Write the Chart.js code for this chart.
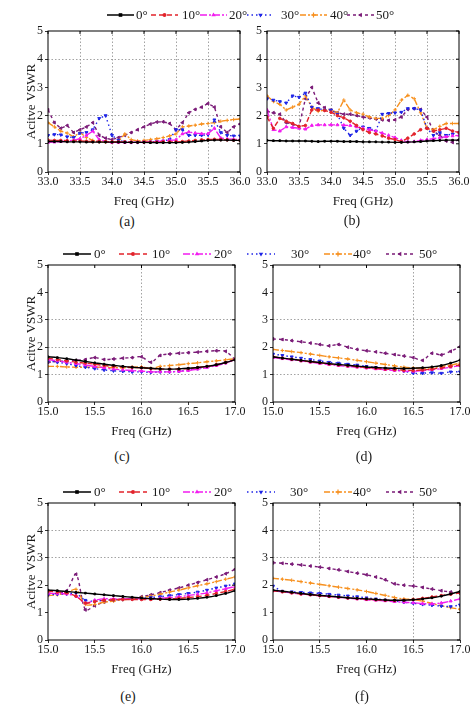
<!DOCTYPE html>
<html>
<head>
<meta charset="utf-8">
<script src="https://cdn.jsdelivr.net/npm/chart.js@4.4.1/dist/chart.umd.min.js"></script>
<style>
  body { margin: 0; background: #fff; width: 474px; height: 712px; position: relative; overflow: hidden;
         font-family: "Liberation Serif", "Times New Roman", serif; }
  canvas { position: absolute; }
  .txt { position: absolute; font-size: 13px; color: #1a1a1a; white-space: nowrap; line-height: 16px; }
  .cap { position: absolute; font-size: 14px; color: #1a1a1a; white-space: nowrap; transform: translateX(-50%); }
  svg { position: absolute; overflow: visible; }
</style>
</head>
<body>
<script>
const angles = ['0°', '10°', '20°', '30°', '40°', '50°'];
const yTicks = [0, 1, 2, 3, 4, 5];

const freqKa = [33.0, 33.1, 33.2, 33.3, 33.4, 33.5, 33.6, 33.7, 33.8, 33.9,
                34.0, 34.1, 34.2, 34.3, 34.4, 34.5, 34.6, 34.7, 34.8, 34.9,
                35.0, 35.1, 35.2, 35.3, 35.4, 35.5, 35.6, 35.7, 35.8, 35.9, 36.0];
const freqKu = [15.0, 15.1, 15.2, 15.3, 15.4, 15.5, 15.6, 15.7, 15.8, 15.9,
                16.0, 16.1, 16.2, 16.3, 16.4, 16.5, 16.6, 16.7, 16.8, 16.9, 17.0];

// (a)
const a0  = [1.08,1.08,1.08,1.07,1.07,1.07,1.06,1.06,1.06,1.06, 1.06,1.06,1.05,1.05,1.05,1.05,1.04,1.04,1.04,1.04, 1.04,1.05,1.06,1.08,1.10,1.12,1.13,1.13,1.13,1.12, 1.12];
const a10 = [1.13,1.12,1.12,1.11,1.10,1.10,1.09,1.08,1.08,1.08, 1.07,1.07,1.07,1.06,1.06,1.06,1.06,1.06,1.07,1.07, 1.07,1.08,1.10,1.12,1.14,1.15,1.16,1.15,1.14,1.13, 1.12];
const a20 = [1.05,1.06,1.08,1.10,1.13,1.18,1.30,1.45,1.15,1.08, 1.05,1.05,1.05,1.05,1.06,1.06,1.07,1.08,1.10,1.12, 1.14,1.35,1.42,1.38,1.36,1.36,1.55,1.20,1.17,1.16, 1.15];
const a30 = [1.30,1.33,1.32,1.25,1.22,1.38,1.40,1.50,1.90,2.00, 1.30,1.12,1.07,1.05,1.05,1.06,1.07,1.08,1.10,1.15, 1.50,1.50,1.30,1.30,1.30,1.32,1.85,1.40,1.30,1.28, 1.28];
const a40 = [1.75,1.60,1.45,1.38,1.25,1.40,1.22,1.12,1.08,1.06, 1.05,1.08,1.35,1.15,1.10,1.12,1.15,1.18,1.22,1.28, 1.35,1.60,1.63,1.66,1.70,1.72,1.75,1.80,1.83,1.86, 1.88];
const a50 = [2.20,1.75,1.55,1.65,1.40,1.50,1.60,1.75,1.30,1.20, 1.15,1.22,1.30,1.40,1.50,1.60,1.70,1.77,1.78,1.72, 1.50,1.75,2.10,2.22,2.30,2.43,2.30,1.60,1.40,1.60, 1.70];

// (b)
const b0  = [1.12,1.11,1.11,1.10,1.10,1.10,1.10,1.09,1.08,1.09, 1.09,1.09,1.08,1.08,1.08,1.07,1.07,1.07,1.06,1.06, 1.05,1.05,1.06,1.07,1.08,1.10,1.11,1.12,1.13,1.13, 1.13];
const b10 = [1.95,1.55,1.90,1.80,1.72,1.62,1.65,2.20,2.20,2.18, 2.12,2.00,1.92,1.80,1.65,1.50,1.40,1.35,1.28,1.20, 1.15,1.08,1.20,1.35,1.50,1.55,1.45,1.50,1.55,1.45, 1.40];
const b20 = [2.20,1.50,1.45,1.60,1.58,1.55,1.52,1.65,1.67,1.67, 1.67,1.67,1.66,1.65,1.60,1.55,1.50,1.45,1.38,1.30, 1.22,1.12,1.07,1.08,1.12,1.15,1.18,1.22,1.25,1.28, 1.30];
const b30 = [2.60,2.55,2.50,2.45,2.70,2.65,2.80,2.30,2.25,2.20, 2.20,2.05,1.55,1.30,1.45,1.60,1.55,1.45,2.05,2.08, 2.10,2.12,2.25,2.25,2.20,1.55,1.30,1.40,1.30,1.35, 1.40];
const b40 = [2.70,2.50,2.40,2.20,2.30,2.40,2.70,2.30,2.15,2.20, 2.20,2.10,2.55,2.20,2.10,2.05,1.95,1.90,1.90,2.00, 2.20,2.55,2.72,2.60,2.10,1.55,1.50,1.62,1.72,1.72, 1.72];
const b50 = [2.15,2.10,2.05,1.75,1.70,1.60,2.60,3.00,2.45,2.28, 2.20,2.10,2.05,2.05,2.00,1.95,1.92,1.88,1.85,1.83, 1.85,1.95,2.22,2.25,2.22,1.95,1.45,1.30,1.10,1.05, 1.15];

// (c)
const c0  = [1.65,1.62,1.58,1.53,1.48,1.43,1.38,1.34,1.30,1.27,1.25,1.23,1.21,1.20,1.21,1.23,1.26,1.30,1.36,1.44,1.54];
const c10 = [1.60,1.55,1.50,1.45,1.42,1.38,1.33,1.30,1.28,1.26,1.25,1.22,1.20,1.20,1.20,1.22,1.26,1.30,1.36,1.44,1.55];
const c20 = [1.55,1.50,1.45,1.40,1.35,1.30,1.25,1.20,1.17,1.15,1.13,1.10,1.10,1.10,1.12,1.15,1.20,1.26,1.33,1.42,1.55];
const c30 = [1.50,1.45,1.40,1.33,1.27,1.22,1.17,1.14,1.12,1.10,1.10,1.08,1.10,1.10,1.12,1.17,1.22,1.28,1.35,1.44,1.55];
const c40 = [1.30,1.30,1.28,1.27,1.27,1.27,1.27,1.25,1.25,1.27,1.28,1.22,1.30,1.33,1.36,1.40,1.43,1.47,1.50,1.54,1.58];
const c50 = [1.45,1.48,1.50,1.52,1.55,1.62,1.55,1.57,1.60,1.62,1.65,1.45,1.70,1.75,1.78,1.80,1.82,1.85,1.87,1.85,1.55];

// (d)
const d0  = [1.65,1.60,1.56,1.52,1.48,1.44,1.40,1.37,1.34,1.31,1.28,1.26,1.24,1.23,1.22,1.23,1.25,1.28,1.33,1.42,1.53];
const d10 = [1.65,1.60,1.56,1.51,1.47,1.43,1.39,1.35,1.32,1.29,1.26,1.23,1.20,1.18,1.16,1.15,1.17,1.20,1.25,1.30,1.35];
const d20 = [1.62,1.58,1.54,1.50,1.45,1.41,1.37,1.33,1.30,1.27,1.24,1.21,1.18,1.15,1.13,1.12,1.15,1.18,1.22,1.27,1.33];
const d30 = [1.75,1.70,1.65,1.60,1.55,1.50,1.45,1.42,1.38,1.35,1.30,1.26,1.22,1.18,1.13,1.05,1.05,1.07,1.05,1.10,1.10];
const d40 = [1.92,1.88,1.84,1.80,1.75,1.70,1.65,1.61,1.57,1.52,1.47,1.42,1.37,1.32,1.27,1.25,1.23,1.25,1.30,1.35,1.42];
const d50 = [2.30,2.28,2.24,2.20,2.15,2.10,2.05,2.10,2.00,1.92,1.87,1.83,1.78,1.73,1.68,1.62,1.52,1.78,1.72,1.85,2.02];

// (e)
const e0  = [1.82,1.80,1.77,1.74,1.71,1.68,1.65,1.62,1.59,1.56,1.53,1.51,1.49,1.48,1.48,1.49,1.52,1.56,1.62,1.70,1.80];
const e10 = [1.78,1.75,1.72,1.60,1.35,1.40,1.45,1.47,1.48,1.48,1.48,1.48,1.49,1.50,1.52,1.55,1.58,1.63,1.70,1.77,1.85];
const e20 = [1.70,1.70,1.68,1.60,1.35,1.45,1.50,1.50,1.50,1.50,1.50,1.50,1.52,1.55,1.58,1.62,1.67,1.72,1.80,1.87,1.95];
const e30 = [1.65,1.67,1.68,1.70,1.45,1.42,1.45,1.47,1.48,1.50,1.52,1.55,1.58,1.62,1.66,1.70,1.75,1.82,1.90,1.97,2.05];
const e40 = [1.62,1.65,1.72,1.85,1.30,1.30,1.38,1.42,1.47,1.50,1.55,1.60,1.67,1.75,1.82,1.90,1.98,2.05,2.13,2.22,2.30];
const e50 = [1.70,1.70,1.80,2.40,1.10,1.25,1.38,1.45,1.50,1.52,1.58,1.65,1.73,1.82,1.90,2.00,2.10,2.20,2.30,2.42,2.58];

// (f)
const f0  = [1.82,1.78,1.74,1.70,1.66,1.63,1.60,1.57,1.54,1.52,1.50,1.48,1.46,1.45,1.45,1.47,1.50,1.54,1.60,1.68,1.77];
const f10 = [1.80,1.76,1.72,1.68,1.65,1.62,1.59,1.56,1.53,1.51,1.49,1.47,1.45,1.44,1.45,1.48,1.52,1.57,1.62,1.67,1.72];
const f20 = [1.80,1.76,1.72,1.68,1.65,1.62,1.59,1.56,1.53,1.50,1.47,1.45,1.43,1.40,1.38,1.36,1.33,1.32,1.35,1.42,1.50];
const f30 = [1.97,1.78,1.76,1.74,1.72,1.70,1.67,1.64,1.61,1.58,1.54,1.50,1.46,1.42,1.38,1.34,1.30,1.27,1.24,1.22,1.28];
const f40 = [2.25,2.22,2.18,2.13,2.08,2.03,1.98,1.93,1.88,1.83,1.77,1.70,1.63,1.55,1.50,1.48,1.42,1.33,1.25,1.18,1.12];
const f50 = [2.82,2.80,2.77,2.74,2.70,2.66,2.61,2.56,2.50,2.44,2.38,2.30,2.20,2.05,2.00,1.97,1.92,1.86,1.80,1.75,1.70];

// line look per angle
const styles = [
  { color: '#000000', dash: [],           point: 'rect',     rot: 0,   r: 1.2 },
  { color: '#e2232b', dash: [5, 3],       point: 'circle',   rot: 0,   r: 1.3 },
  { color: '#f21cf0', dash: [7, 2, 2, 2], point: 'triangle', rot: 0,   r: 1.7 },
  { color: '#1e24e6', dash: [1.5, 3],     point: 'triangle', rot: 180, r: 1.7 },
  { color: '#f7901e', dash: [6, 2, 2, 2], point: 'cross',    rot: 0,   r: 1.8 },
  { color: '#7b1c78', dash: [3, 3],       point: 'triangle', rot: -90, r: 1.7 }
];

const serif = '"Liberation Serif", "Times New Roman", serif';

const panels = [
  { freq: freqKa, series: [a0, a10, a20, a30, a40, a50], left: 48,  top: 31,  w: 192, h: 141, xmin: 33, xmax: 36,
    yTitle: true,  gx: [33.5, 34, 34.5, 35, 35.5], gy: [2, 4], tension: 0, cap: '(a)', capX: 127, capY: 214 },
  { freq: freqKa, series: [b0, b10, b20, b30, b40, b50], left: 267, top: 31,  w: 192, h: 141, xmin: 33, xmax: 36,
    yTitle: false, gx: [33.5, 34, 34.5, 35, 35.5], gy: [2, 4], tension: 0, cap: '(b)', capX: 352, capY: 213 },
  { freq: freqKu, series: [c0, c10, c20, c30, c40, c50], left: 48,  top: 265, w: 187, h: 137, xmin: 15, xmax: 17,
    yTitle: true,  gx: [16], gy: [1, 2, 3], tension: 0.3, cap: '(c)', capX: 122, capY: 449 },
  { freq: freqKu, series: [d0, d10, d20, d30, d40, d50], left: 273, top: 265, w: 187, h: 137, xmin: 15, xmax: 17,
    yTitle: false, gx: [16.5], gy: [1, 3], tension: 0.3, cap: '(d)', capX: 364, capY: 449 },
  { freq: freqKu, series: [e0, e10, e20, e30, e40, e50], left: 48,  top: 503, w: 187, h: 137, xmin: 15, xmax: 17,
    yTitle: true,  gx: [], gy: [3, 4], tension: 0.3, cap: '(e)', capX: 128, capY: 689 },
  { freq: freqKu, series: [f0, f10, f20, f30, f40, f50], left: 273, top: 503, w: 187, h: 137, xmin: 15, xmax: 17,
    yTitle: false, gx: [15.5, 16.5], gy: [3, 4], tension: 0.3, cap: '(f)', capX: 362, capY: 689 }
];

const legendRows = [
  { y: 15,  lineX: [107, 151, 200, 247, 300, 347], lineW: 27, textX: [136, 182, 229, 281, 330, 376] },
  { y: 254, lineX: [63, 119, 183, 247, 324, 386],  lineW: 28, textX: [94, 152, 214, 291, 353, 419] },
  { y: 492, lineX: [63, 119, 183, 247, 324, 386],  lineW: 28, textX: [94, 152, 214, 290, 353, 419] }
];

// box around the plot plus small inward ticks on top / right
const framePlugin = {
  id: 'frame',
  afterDraw(chart) {
    const { ctx, chartArea: { left, top, right, bottom }, scales: { x, y } } = chart;
    ctx.save();
    ctx.strokeStyle = '#000';
    ctx.lineWidth = 1;
    ctx.setLineDash([]);
    ctx.strokeRect(left, top, right - left, bottom - top);
    ctx.beginPath();
    x.ticks.forEach(t => {
      const px = x.getPixelForValue(t.value);
      ctx.moveTo(px, top); ctx.lineTo(px, top + 3);
    });
    y.ticks.forEach(t => {
      const py = y.getPixelForValue(t.value);
      ctx.moveTo(right, py); ctx.lineTo(right - 3, py);
    });
    ctx.stroke();
    ctx.restore();
  }
};

function gridColor(list, c) {
  if (!c.tick) return 'rgba(0,0,0,0)';
  return list.some(v => Math.abs(v - c.tick.value) < 1e-6) ? '#8c8c8c' : 'rgba(0,0,0,0)';
}

panels.forEach(p => {
  const W = 48 + p.w + 16, H = 10 + p.h + 40;
  const cv = document.createElement('canvas');
  cv.width = W; cv.height = H;
  cv.style.left = (p.left - 48) + 'px';
  cv.style.top = (p.top - 10) + 'px';
  cv.style.width = W + 'px';
  cv.style.height = H + 'px';
  document.body.appendChild(cv);

  new Chart(cv.getContext('2d'), {
    type: 'line',
    data: {
      datasets: p.series.map((vals, i) => ({
        label: angles[i],
        data: vals.map((v, j) => ({ x: p.freq[j], y: v })),
        borderColor: styles[i].color,
        backgroundColor: styles[i].color,
        borderWidth: 1.4,
        borderDash: styles[i].dash,
        pointStyle: styles[i].point,
        pointRotation: styles[i].rot,
        pointRadius: styles[i].r,
        pointBorderWidth: 1,
        pointBorderColor: styles[i].color,
        pointBackgroundColor: styles[i].color,
        tension: p.tension,
        fill: false
      }))
    },
    options: {
      responsive: false,
      animation: false,
      devicePixelRatio: 1,
      layout: { padding: { top: 10, right: 16, left: 0, bottom: 0 } },
      plugins: { legend: { display: false }, tooltip: { enabled: false } },
      scales: {
        x: {
          type: 'linear',
          min: p.xmin,
          max: p.xmax,
          afterFit: s => { s.height = 40; },
          ticks: {
            stepSize: 0.5, autoSkip: false, maxRotation: 0, padding: 0, color: '#1a1a1a',
            font: { family: serif, size: 12 },
            callback: v => Number(v).toFixed(1)
          },
          grid: {
            color: c => gridColor(p.gx, c), lineWidth: 0.8,
            drawTicks: true, tickLength: 3, tickColor: '#000', tickBorderDash: []
          },
          border: { display: false, dash: [1.5, 2] },
          title: {
            display: true, text: 'Freq (GHz)', color: '#1a1a1a',
            font: { family: serif, size: 13 }, padding: { top: 0, bottom: 3 }
          }
        },
        y: {
          min: 0,
          max: 5,
          afterFit: s => { s.width = 48; },
          afterBuildTicks: s => { s.ticks = yTicks.map(v => ({ value: v })); },
          ticks: { padding: 2, color: '#1a1a1a', font: { family: serif, size: 12 } },
          grid: {
            color: c => gridColor(p.gy, c), lineWidth: 0.8,
            drawTicks: true, tickLength: 3, tickColor: '#000', tickBorderDash: []
          },
          border: { display: false, dash: [1.5, 2] },
          title: {
            display: p.yTitle, text: 'Acitve VSWR', color: '#1a1a1a',
            font: { family: serif, size: 13 }, padding: { top: 24, bottom: 0 }
          }
        }
      }
    },
    plugins: [framePlugin]
  });

  const cap = document.createElement('div');
  cap.className = 'cap';
  cap.textContent = p.cap;
  cap.style.left = p.capX + 'px';
  cap.style.top = p.capY + 'px';
  document.body.appendChild(cap);
});

// legend rows
function markerSvg(st, cx, cy) {
  const c = st.color;
  if (st.point === 'rect') return `<rect x="${cx - 1.8}" y="${cy - 1.8}" width="3.6" height="3.6" fill="${c}"/>`;
  if (st.point === 'circle') return `<circle cx="${cx}" cy="${cy}" r="2" fill="${c}"/>`;
  if (st.point === 'cross') return `<path d="M${cx - 2.6} ${cy}H${cx + 2.6}M${cx} ${cy - 2.6}V${cy + 2.6}" stroke="${c}" stroke-width="1.2"/>`;
  const r = 2.6;
  return `<polygon points="${cx},${cy - r} ${cx + r * 0.87},${cy + r / 2} ${cx - r * 0.87},${cy + r / 2}" fill="${c}" transform="rotate(${st.rot} ${cx} ${cy})"/>`;
}

legendRows.forEach(row => {
  styles.forEach((st, i) => {
    const w = row.lineW;
    const svg = `<svg width="${w}" height="10" style="left:${row.lineX[i]}px;top:${row.y - 5}px">` +
      `<line x1="0" y1="5" x2="${w}" y2="5" stroke="${st.color}" stroke-width="1.5" stroke-dasharray="${st.dash.length ? st.dash.join(',') : 'none'}"/>` +
      markerSvg(st, w / 2, 5) + `</svg>`;
    document.body.insertAdjacentHTML('beforeend', svg);
    const t = document.createElement('div');
    t.className = 'txt';
    t.textContent = angles[i];
    t.style.left = row.textX[i] + 'px';
    t.style.top = (row.y - 8) + 'px';
    document.body.appendChild(t);
  });
});
</script>
</body>
</html>
